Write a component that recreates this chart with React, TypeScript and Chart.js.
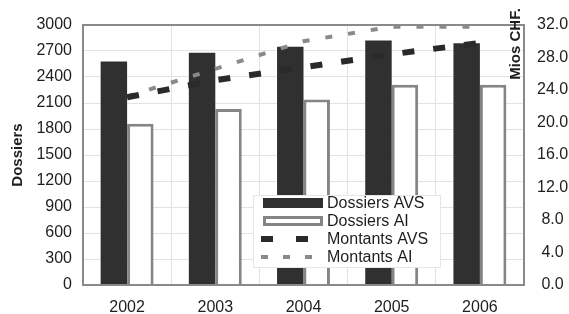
import React, { useEffect, useRef } from 'react';
import { Chart, registerables } from 'chart.js';

Chart.register(...registerables);

const categories = ['2002', '2003', '2004', '2005', '2006'];
const dossiersAVS = [2580, 2680, 2750, 2820, 2790];
const dossiersAI = [1860, 2030, 2140, 2310, 2310];
const montantsAVS = [23.1, 25.2, 26.8, 28.4, 29.8];
const montantsAI = [23.2, 26.6, 30.0, 31.8, 31.8];
const seriesLabels = ['Dossiers AVS', 'Dossiers AI', 'Montants AVS', 'Montants AI'];
const leftTitle = 'Dossiers';
const rightTitle = 'Mios CHF.';

const FONT = "'Liberation Sans', Arial, sans-serif";
const TEXT = '#1e1e1e';
const DARK = '#303030';
const GRAY = '#858585';
const GRID = '#e3e3e3';

const extrasPlugin = {
  id: 'extras',
  afterDatasetsDraw(chart: any) {
    const ctx = chart.ctx;
    const a = chart.chartArea;
    ctx.save();
    // frame
    ctx.strokeStyle = '#8a8a8a';
    ctx.lineWidth = 2;
    ctx.strokeRect(a.left, a.top, a.right - a.left, a.bottom - a.top);

    // legend
    const lx = a.left + 170;
    const ly = a.top + 170;
    const lw = 187;
    const lh = 72;
    ctx.fillStyle = '#ffffff';
    ctx.fillRect(lx, ly, lw, lh);
    ctx.strokeStyle = '#e6e6e6';
    ctx.lineWidth = 1;
    ctx.strokeRect(lx + 0.5, ly + 0.5, lw, lh);
    const sx = lx + 10;
    const sw = 60;
    ctx.font = `16px ${FONT}`;
    ctx.textBaseline = 'middle';
    ctx.textAlign = 'left';
    chart.data.datasets.forEach((ds: any, i: number) => {
      const y = ly + 8 + i * 18;
      if (ds.type === 'bar') {
        if (ds.borderWidth) {
          ctx.fillStyle = '#ffffff';
          ctx.fillRect(sx, y - 4, sw, 8);
          ctx.strokeStyle = ds.borderColor;
          ctx.lineWidth = 3;
          ctx.strokeRect(sx + 1.5, y - 3.5, sw - 3, 7);
        } else {
          ctx.fillStyle = ds.backgroundColor;
          ctx.fillRect(sx, y - 5, sw, 10);
        }
      } else {
        ctx.strokeStyle = ds.borderColor;
        ctx.lineWidth = ds.borderWidth;
        ctx.setLineDash(ds.legendDash);
        ctx.beginPath();
        ctx.moveTo(sx - 2, y);
        ctx.lineTo(sx + sw, y);
        ctx.stroke();
        ctx.setLineDash([]);
      }
      ctx.fillStyle = TEXT;
      ctx.fillText(ds.label, sx + sw + 4, y + 1);
    });

    // axis titles
    ctx.font = `bold 15px ${FONT}`;
    ctx.fillStyle = TEXT;
    ctx.textAlign = 'center';
    ctx.textBaseline = 'middle';
    ctx.save();
    ctx.translate(18, (a.top + a.bottom) / 2);
    ctx.rotate(-Math.PI / 2);
    ctx.fillText(leftTitle, 0, 0);
    ctx.restore();
    ctx.save();
    ctx.translate(a.right - 8, a.top + 19);
    ctx.rotate(-Math.PI / 2);
    ctx.fillText(rightTitle, 0, 0);
    ctx.restore();
    ctx.restore();
  },
};

export default function App() {
  const ref = useRef<HTMLCanvasElement | null>(null);
  useEffect(() => {
    document.body.style.margin = '0';
    const canvas = ref.current;
    if (!canvas) return;
    const chart = new Chart(canvas, {
      type: 'bar',
      data: {
        labels: categories,
        datasets: [
          {
            type: 'bar',
            label: seriesLabels[0],
            data: dossiersAVS,
            backgroundColor: DARK,
            borderWidth: 0,
            yAxisID: 'y',
            order: 1,
          },
          {
            type: 'bar',
            label: seriesLabels[1],
            data: dossiersAI,
            backgroundColor: '#ffffff',
            borderColor: GRAY,
            borderWidth: 3,
            yAxisID: 'y',
            order: 1,
          },
          {
            type: 'line',
            label: seriesLabels[2],
            data: montantsAVS,
            borderColor: '#2a2a2a',
            borderWidth: 6,
            borderDash: [12, 19],
            legendDash: [12, 23],
            pointRadius: 0,
            tension: 0,
            yAxisID: 'y1',
            order: 0,
          },
          {
            type: 'line',
            label: seriesLabels[3],
            data: montantsAI,
            borderColor: '#8a8a8a',
            borderWidth: 4,
            borderDash: [7, 16],
            legendDash: [7, 15],
            pointRadius: 0,
            tension: 0,
            yAxisID: 'y1',
            order: 0,
          },
        ] as any,
      },
      options: {
        responsive: false,
        animation: false,
        devicePixelRatio: 1,
        layout: { padding: { top: 25, left: 0, right: 0, bottom: 0 } },
        datasets: { bar: { barPercentage: 1.0, categoryPercentage: 0.6 } },
        plugins: { legend: { display: false }, tooltip: { enabled: false } },
        scales: {
          x: {
            grid: { color: GRID, drawTicks: false, offset: true },
            border: { display: false },
            ticks: { font: { family: FONT, size: 16 }, color: TEXT, padding: 13, maxRotation: 0 },
            afterFit: (s: any) => { s.height = 29; },
          },
          y: {
            position: 'left',
            min: 0,
            max: 3000,
            grid: { color: GRID, drawTicks: false },
            border: { display: false },
            ticks: {
              stepSize: 300,
              font: { family: FONT, size: 16 },
              color: TEXT,
              padding: 11,
              callback: (v: any) => String(Math.round(Number(v))),
            },
            afterFit: (s: any) => { s.width = 83; },
          },
          y1: {
            position: 'right',
            min: 0,
            max: 32,
            grid: { drawOnChartArea: false, drawTicks: false },
            border: { display: false },
            ticks: {
              stepSize: 4,
              font: { family: FONT, size: 16 },
              color: TEXT,
              padding: 13,
              crossAlign: 'center',
              callback: (v: any) => Number(v).toFixed(1),
            },
            afterFit: (s: any) => { s.width = 45; },
          },
        },
      } as any,
      plugins: [extrasPlugin],
    });
    return () => chart.destroy();
  }, []);
  return (
    <div style={{ width: 569, height: 314, background: '#ffffff' }}>
      <canvas ref={ref} width={569} height={314} style={{ display: 'block' }} />
    </div>
  );
}
